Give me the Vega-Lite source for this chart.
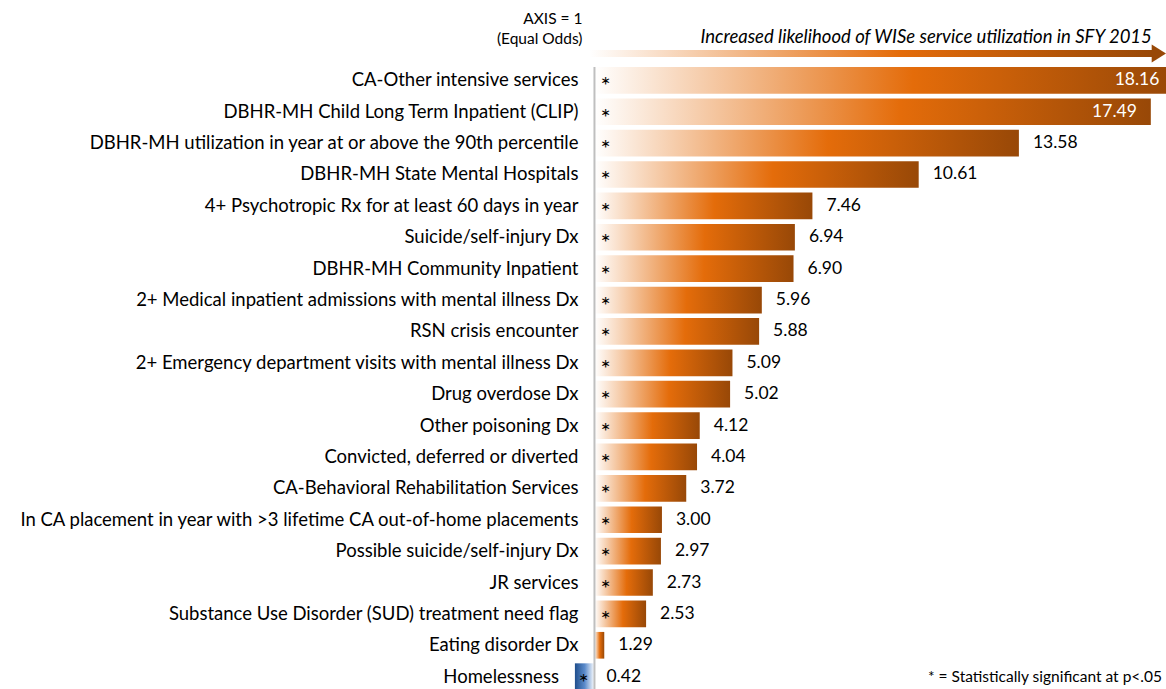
{
  "$schema": "https://vega.github.io/schema/vega-lite/v6.json",
  "padding": 0,
  "background": "white",
  "spacing": 0,
  "config": {"view": {"stroke": null}, "font": "Lato", "text": {"font": "Lato"}, "concat": {"spacing": 0}},
  "datasets": {
    "odds": [
      {"factor": "CA-Other intensive services", "or": 18.16, "sig": true},
      {"factor": "DBHR-MH Child Long Term Inpatient (CLIP)", "or": 17.49, "sig": true},
      {"factor": "DBHR-MH utilization in year at or above the 90th percentile", "or": 13.58, "sig": true},
      {"factor": "DBHR-MH State Mental Hospitals", "or": 10.61, "sig": true},
      {"factor": "4+ Psychotropic Rx for at least 60 days in year", "or": 7.46, "sig": true},
      {"factor": "Suicide/self-injury Dx", "or": 6.94, "sig": true},
      {"factor": "DBHR-MH Community Inpatient", "or": 6.90, "sig": true},
      {"factor": "2+ Medical inpatient admissions with mental illness Dx", "or": 5.96, "sig": true},
      {"factor": "RSN crisis encounter", "or": 5.88, "sig": true},
      {"factor": "2+ Emergency department visits with mental illness Dx", "or": 5.09, "sig": true},
      {"factor": "Drug overdose Dx", "or": 5.02, "sig": true},
      {"factor": "Other poisoning Dx", "or": 4.12, "sig": true},
      {"factor": "Convicted, deferred or diverted", "or": 4.04, "sig": true},
      {"factor": "CA-Behavioral Rehabilitation Services", "or": 3.72, "sig": true},
      {"factor": "In CA placement in year with >3 lifetime CA out-of-home placements", "or": 3.00, "sig": true},
      {"factor": "Possible suicide/self-injury Dx", "or": 2.97, "sig": true},
      {"factor": "JR services", "or": 2.73, "sig": true},
      {"factor": "Substance Use Disorder (SUD) treatment need flag", "or": 2.53, "sig": true},
      {"factor": "Eating disorder Dx", "or": 1.29, "sig": false},
      {"factor": "Homelessness", "or": 0.42, "sig": true}
    ]
  },
  "vconcat": [
    {
      "width": 1166,
      "height": 66,
      "data": {"values": [{"k": 1}]},
      "layer": [
        {
          "mark": {"type": "rect", "color": {"gradient": "linear", "x1": 0, "x2": 1, "y1": 0, "y2": 0, "stops": [{"offset": 0, "color": "#ffffff"}, {"offset": 0.55, "color": "#e46c0a"}, {"offset": 1, "color": "#984807"}]}},
          "encoding": {
            "x": {"datum": 0.85, "type": "quantitative", "scale": {"domain": [-16.62, 17.94], "nice": false, "zero": false}, "axis": null},
            "x2": {"datum": 17.55},
            "y": {"datum": 50, "type": "quantitative", "scale": {"domain": [0, 66], "reverse": true, "nice": false, "zero": false}, "axis": null},
            "y2": {"datum": 57}
          }
        },
        {
          "mark": {"type": "point", "shape": "M-0.8,-1L0.8,0L-0.8,1Z", "filled": true, "color": "#984807", "size": 324, "opacity": 1},
          "encoding": {
            "x": {"datum": 17.73, "type": "quantitative"},
            "y": {"datum": 53.5, "type": "quantitative"}
          }
        },
        {
          "mark": {"type": "text", "align": "right", "baseline": "middle", "dx": -12, "fontSize": 15.5, "color": "#000000"},
          "encoding": {
            "x": {"datum": 1, "type": "quantitative"},
            "y": {"datum": 19, "type": "quantitative"},
            "text": {"value": "AXIS = 1"}
          }
        },
        {
          "mark": {"type": "text", "align": "right", "baseline": "middle", "dx": -12, "fontSize": 15.5, "color": "#000000"},
          "encoding": {
            "x": {"datum": 1, "type": "quantitative"},
            "y": {"datum": 39, "type": "quantitative"},
            "text": {"value": "(Equal Odds)"}
          }
        },
        {
          "mark": {"type": "text", "align": "right", "baseline": "middle", "fontSize": 18.5, "fontStyle": "italic", "color": "#000000"},
          "encoding": {
            "x": {"datum": 17.52, "type": "quantitative"},
            "y": {"datum": 37, "type": "quantitative"},
            "text": {"value": "Increased likelihood of WISe service utilization in SFY 2015"}
          }
        }
      ]
    },
    {
      "width": 1166,
      "height": 623,
      "data": {"name": "odds"},
      "encoding": {
        "y": {"field": "factor", "type": "nominal", "sort": null, "axis": null, "scale": {"paddingInner": 0.15, "paddingOuter": 0}}
      },
      "layer": [
        {
          "transform": [{"filter": "datum.or >= 1"}],
          "mark": {"type": "bar", "clip": true, "color": {"gradient": "linear", "x1": 0, "x2": 1, "y1": 0, "y2": 0, "stops": [{"offset": 0, "color": "#ffffff"}, {"offset": 0.55, "color": "#e46c0a"}, {"offset": 1, "color": "#984807"}]}},
          "encoding": {
            "x": {"field": "or", "type": "quantitative", "scale": {"domain": [-16.62, 17.94], "nice": false, "zero": false}, "axis": null},
            "x2": {"datum": 1}
          }
        },
        {
          "transform": [{"filter": "datum.or < 1"}],
          "mark": {"type": "bar", "clip": true, "color": {"gradient": "linear", "x1": 0, "x2": 1, "y1": 0, "y2": 0, "stops": [{"offset": 0, "color": "#1f4e8c"}, {"offset": 0.5, "color": "#5b8bcb"}, {"offset": 1, "color": "#ffffff"}]}},
          "encoding": {
            "x": {"field": "or", "type": "quantitative"},
            "x2": {"datum": 1}
          }
        },
        {
          "data": {"values": [{"k": 1}]},
          "mark": {"type": "rule", "color": "#bfbfbf", "strokeWidth": 2},
          "encoding": {"x": {"datum": 1, "type": "quantitative"}, "y": null}
        },
        {
          "transform": [{"filter": "datum.or >= 1"}],
          "mark": {"type": "text", "align": "right", "baseline": "middle", "dx": -16, "fontSize": 18.5, "color": "#000000"},
          "encoding": {
            "x": {"datum": 1, "type": "quantitative"},
            "text": {"field": "factor"}
          }
        },
        {
          "transform": [{"filter": "datum.or < 1"}],
          "mark": {"type": "text", "align": "right", "baseline": "middle", "dx": -16, "fontSize": 18.5, "color": "#000000"},
          "encoding": {
            "x": {"field": "or", "type": "quantitative"},
            "text": {"field": "factor"}
          }
        },
        {
          "transform": [{"filter": "datum.sig && datum.or >= 1"}],
          "mark": {"type": "text", "align": "center", "baseline": "middle", "dx": 11, "dy": 7, "fontSize": 24, "color": "#000000"},
          "encoding": {
            "x": {"datum": 1, "type": "quantitative"},
            "text": {"value": "*"}
          }
        },
        {
          "transform": [{"filter": "datum.sig && datum.or < 1"}],
          "mark": {"type": "text", "align": "center", "baseline": "middle", "dx": -11, "dy": 7, "fontSize": 24, "color": "#000000"},
          "encoding": {
            "x": {"datum": 1, "type": "quantitative"},
            "text": {"value": "*"}
          }
        },
        {
          "transform": [{"filter": "datum.or >= 15"}],
          "mark": {"type": "text", "align": "right", "baseline": "middle", "dx": -14, "fontSize": 17.5, "color": "#ffffff"},
          "encoding": {
            "x": {"field": "or", "type": "quantitative"},
            "text": {"field": "or", "type": "quantitative", "format": ".2f"}
          }
        },
        {
          "transform": [{"filter": "datum.or >= 1 && datum.or < 15"}],
          "mark": {"type": "text", "align": "left", "baseline": "middle", "dx": 14, "fontSize": 17.5, "color": "#000000"},
          "encoding": {
            "x": {"field": "or", "type": "quantitative"},
            "text": {"field": "or", "type": "quantitative", "format": ".2f"}
          }
        },
        {
          "transform": [{"filter": "datum.or < 1"}],
          "mark": {"type": "text", "align": "left", "baseline": "middle", "dx": 12, "fontSize": 17.5, "color": "#000000"},
          "encoding": {
            "x": {"datum": 1, "type": "quantitative"},
            "text": {"field": "or", "type": "quantitative", "format": ".2f"}
          }
        },
        {
          "data": {"values": [{"k": 1}]},
          "mark": {"type": "text", "align": "right", "baseline": "middle", "fontSize": 15.5, "color": "#000000"},
          "encoding": {
            "x": {"datum": 17.82, "type": "quantitative"},
            "y": {"datum": "Homelessness"},
            "text": {"value": "* = Statistically significant at p<.05"}
          }
        }
      ]
    }
  ]
}
